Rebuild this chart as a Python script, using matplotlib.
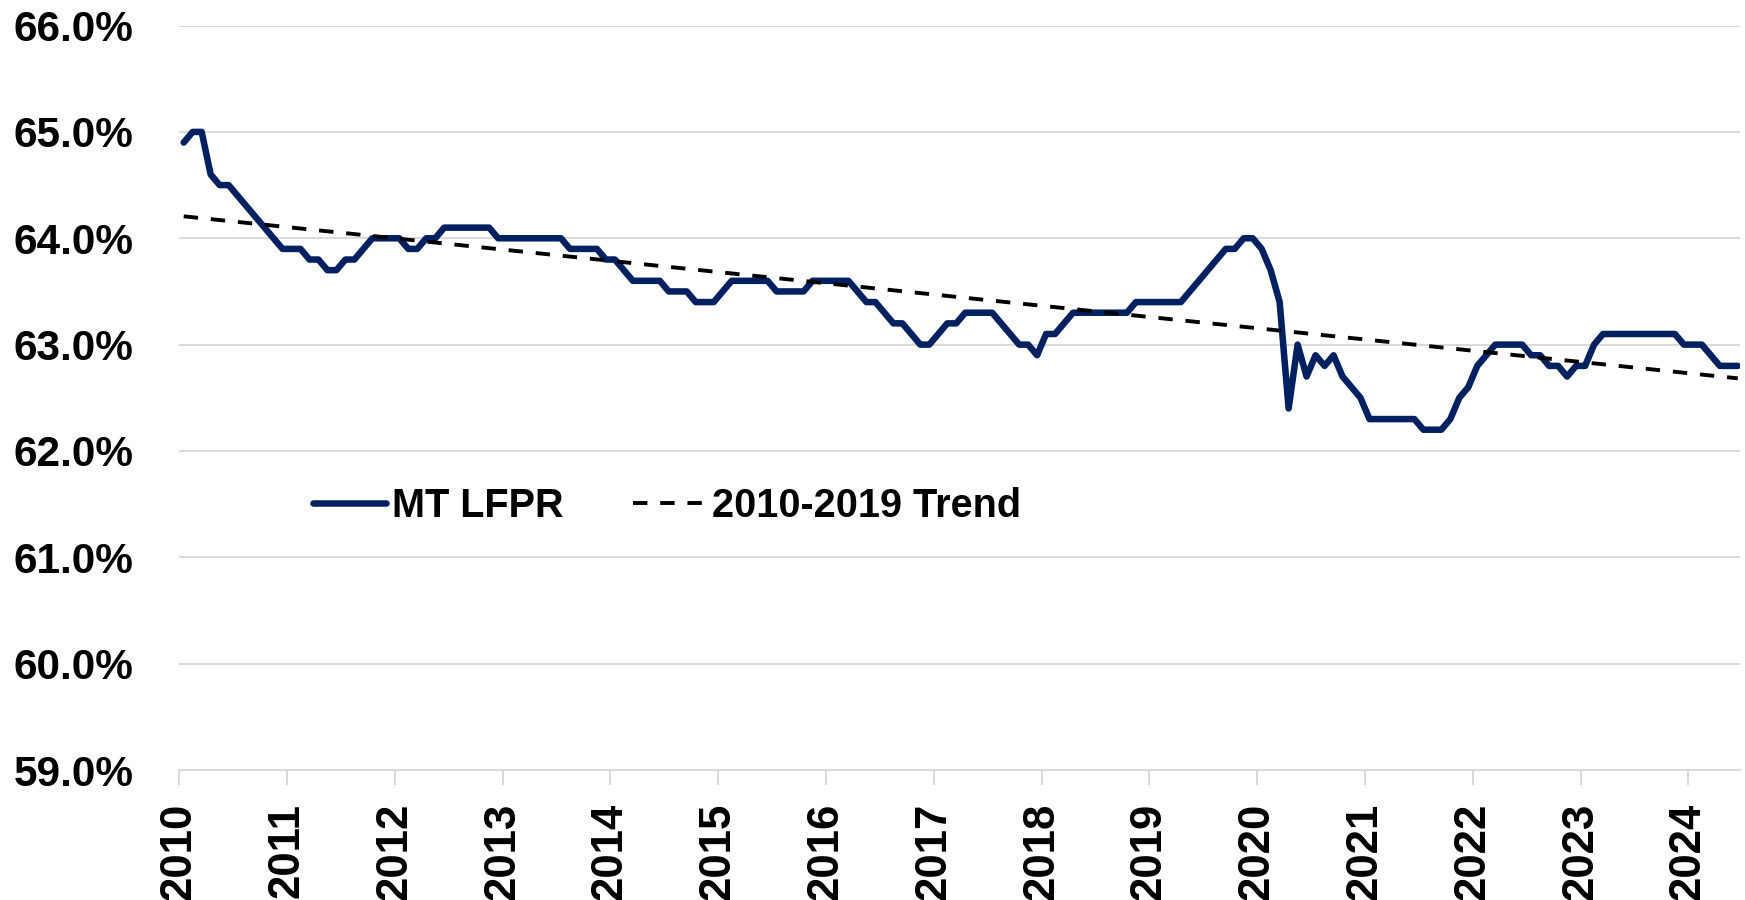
"""Montana labour force participation rate, 2010 to mid-2024, with the 2010-2019 linear trend."""
import matplotlib

matplotlib.use("Agg")
import matplotlib.pyplot as plt
import numpy as np
from matplotlib.ticker import FuncFormatter

NAVY = "#002060"
GRID = "#d9d9d9"

# monthly MT LFPR (%), Jan 2010 .. Jun 2024
lfpr_2010_2014 = [
    64.9, 65.0, 65.0, 64.6, 64.5, 64.5, 64.4, 64.3, 64.2, 64.1, 64.0, 63.9,
    63.9, 63.9, 63.8, 63.8, 63.7, 63.7, 63.8, 63.8, 63.9, 64.0, 64.0, 64.0,
    64.0, 63.9, 63.9, 64.0, 64.0, 64.1, 64.1, 64.1, 64.1, 64.1, 64.1, 64.0,
    64.0, 64.0, 64.0, 64.0, 64.0, 64.0, 64.0, 63.9, 63.9, 63.9, 63.9, 63.8,
    63.8, 63.7, 63.6, 63.6, 63.6, 63.6, 63.5, 63.5, 63.5, 63.4, 63.4, 63.4,
]
lfpr_2015_2019 = [
    63.5, 63.6, 63.6, 63.6, 63.6, 63.6, 63.5, 63.5, 63.5, 63.5, 63.6, 63.6,
    63.6, 63.6, 63.6, 63.5, 63.4, 63.4, 63.3, 63.2, 63.2, 63.1, 63.0, 63.0,
    63.1, 63.2, 63.2, 63.3, 63.3, 63.3, 63.3, 63.2, 63.1, 63.0, 63.0, 62.9,
    63.1, 63.1, 63.2, 63.3, 63.3, 63.3, 63.3, 63.3, 63.3, 63.3, 63.4, 63.4,
    63.4, 63.4, 63.4, 63.4, 63.5, 63.6, 63.7, 63.8, 63.9, 63.9, 64.0, 64.0,
]
lfpr_2020_2024 = [
    63.9, 63.7, 63.4, 62.4, 63.0, 62.7, 62.9, 62.8, 62.9, 62.7, 62.6, 62.5,
    62.3, 62.3, 62.3, 62.3, 62.3, 62.3, 62.2, 62.2, 62.2, 62.3, 62.5, 62.6,
    62.8, 62.9, 63.0, 63.0, 63.0, 63.0, 62.9, 62.9, 62.8, 62.8, 62.7, 62.8,
    62.8, 63.0, 63.1, 63.1, 63.1, 63.1, 63.1, 63.1, 63.1, 63.1, 63.1, 63.0,
    63.0, 63.0, 62.9, 62.8, 62.8, 62.8,
]
lfpr = lfpr_2010_2014 + lfpr_2015_2019 + lfpr_2020_2024
years = list(range(2010, 2025))
y_ticks = [59, 60, 61, 62, 63, 64, 65, 66]
labels = ["MT LFPR", "2010-2019 Trend"]


def main() -> None:
    values = np.array(lfpr)
    months = np.arange(len(values))
    x = 2010 + (months + 0.5) / 12

    # Excel-style linear trendline fitted on 2010-2019, extended to the end
    fit_n = len(lfpr_2010_2014) + len(lfpr_2015_2019)
    slope, icpt = np.polyfit(months[:fit_n], values[:fit_n], 1)
    trend = slope * months + icpt

    fig = plt.figure(figsize=(17.45, 9), dpi=100)
    ax = fig.add_axes([0.1027, 0.1444, 0.8944, 0.8272])

    ax.plot(x, values, color=NAVY, lw=4.7, solid_joinstyle="round",
            solid_capstyle="round", label=labels[0], zorder=3)
    ax.plot(x, trend, color="black", lw=2.8, linestyle=(0, (3.7, 3.3)),
            label=labels[1], zorder=4)

    ax.set_xlim(2010, x[-1] + 0.02)
    ax.set_ylim(59, 66)
    ax.set_yticks(y_ticks)
    ax.set_xticks(years)
    ax.yaxis.set_major_formatter(FuncFormatter(lambda v, _: f"{v:.1f}%"))
    ax.grid(axis="y", color=GRID, lw=1.4, zorder=0)

    for side in ("left", "right", "top"):
        ax.spines[side].set_visible(False)
    ax.spines["bottom"].set_color(GRID)
    ax.spines["bottom"].set_linewidth(1.4)

    tick_font = {"family": ["Liberation Sans", "DejaVu Sans"], "weight": "bold"}
    ax.tick_params(axis="y", length=0, pad=33)
    ax.tick_params(axis="x", length=10.8, width=1.4, color=GRID, pad=13)
    for lab in ax.get_yticklabels():
        lab.set(fontsize=30.5, **tick_font)
    for lab in ax.get_xticklabels():
        lab.set(fontsize=31.5, rotation=90, **tick_font)

    ax.legend(loc="center left", bbox_to_anchor=(313 / 1745, 1 - 506 / 900),
              bbox_transform=fig.transFigure, ncol=2, frameon=False,
              borderpad=0, borderaxespad=0, handlelength=1.85,
              handletextpad=0.15, columnspacing=1.75,
              prop={"family": ["Liberation Sans", "DejaVu Sans"],
                    "weight": "bold", "size": 28.5})

    fig.savefig("out.png", dpi=100)
    plt.close(fig)


if __name__ == "__main__":
    main()
